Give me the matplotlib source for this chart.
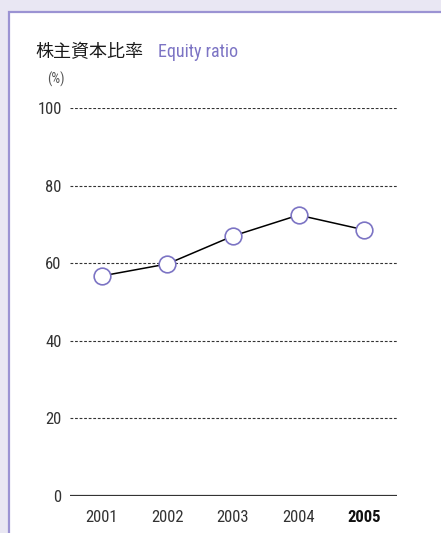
import matplotlib
matplotlib.use("Agg")
import matplotlib.pyplot as plt
from matplotlib.patches import Rectangle

years = ["2001", "2002", "2003", "2004", "2005"]
equity_ratio = [56.7, 59.8, 67.0, 72.4, 68.6]
yticks = [0, 20, 40, 60, 80, 100]

W, H = 441, 533
fig = plt.figure(figsize=(W / 100, H / 100), dpi=100)
fig.patch.set_facecolor("#e9e7f3")

# white panel with lavender border
panel = Rectangle((8.5 / W, -0.01), 1.1, 1.01 - 11.5 / H, transform=fig.transFigure,
                  facecolor="white", edgecolor="#9b93d3", linewidth=1.6, zorder=-5)
fig.add_artist(panel)

cond = ["Roboto Condensed", "DejaVu Sans"]
ax = fig.add_axes([70 / W, 1 - 496 / H, (397 - 70) / W, (496 - 108) / H])
ax.set_zorder(2)
ax.set_facecolor("none")
x = list(range(len(years)))
ax.set_xlim(-0.48, 4.5)
ax.set_ylim(0, 100)
for v in yticks[1:]:
    ax.axhline(v, color="#333333", lw=0.8, ls=(0, (2.5, 1.6)), zorder=1)
ax.axhline(0, color="#333333", lw=1.6, zorder=2)
ax.plot(x, equity_ratio, color="black", lw=1.1, zorder=3,
        marker="o", markersize=12, markerfacecolor="white",
        markeredgecolor="#7c74c4", markeredgewidth=1.2)
for s in ax.spines.values():
    s.set_visible(False)
ax.set_yticks(yticks)
ax.set_yticklabels([str(v) for v in yticks], fontfamily=cond, fontsize=12, color="#333333")
ax.set_xticks(x)
ax.set_xticklabels(years, fontfamily=cond, fontsize=12, color="#333333")
ax.get_xticklabels()[-1].set_fontweight("bold")
ax.get_xticklabels()[-1].set_color("#111111")
ax.tick_params(axis="both", length=0)
ax.tick_params(axis="y", pad=6)
ax.tick_params(axis="x", pad=10)

fig.text(35 / W, 1 - 57 / H, "株主資本比率", fontfamily=["Noto Sans CJK JP", "DejaVu Sans"],
         fontsize=13, color="#1a1a1a", va="baseline", ha="left")
fig.text(158 / W, 1 - 57 / H, "Equity ratio", fontfamily=cond,
         fontsize=13, color="#7c74c4", va="baseline", ha="left")
fig.text(47 / W, 1 - 84 / H, "(%)", fontfamily=cond, fontsize=10, color="#555555",
         va="baseline", ha="left")

fig.savefig("out.png", dpi=100, facecolor=fig.get_facecolor())
